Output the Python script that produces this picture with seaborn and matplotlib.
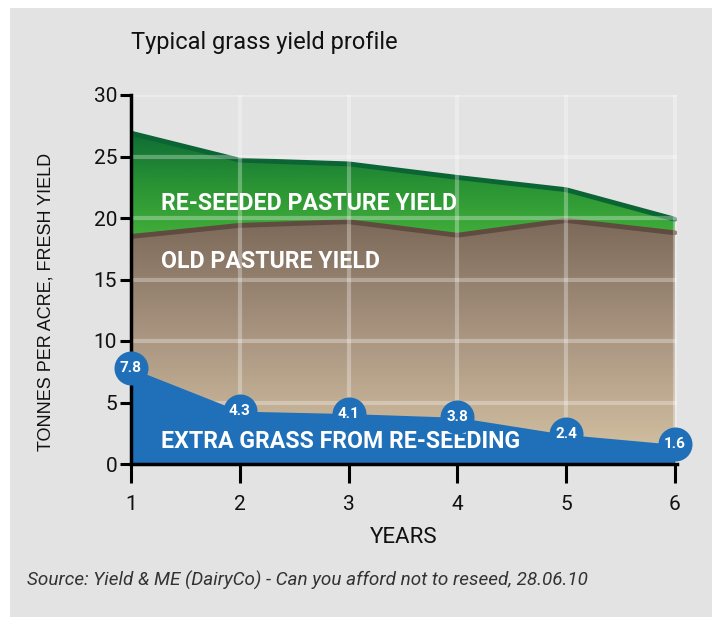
import matplotlib

matplotlib.use("Agg")
import matplotlib.pyplot as plt
import numpy as np
import pandas as pd
import seaborn as sns
from matplotlib.colors import LinearSegmentedColormap
from matplotlib.patches import Rectangle

years = [1, 2, 3, 4, 5, 6]
reseeded_total = [26.9, 24.7, 24.4, 23.3, 22.3, 19.9]
old_pasture = [18.5, 19.4, 19.7, 18.6, 19.8, 18.8]
extra_grass = [7.8, 4.3, 4.1, 3.8, 2.4, 1.6]

df = pd.DataFrame(
    {"year": years, "total": reseeded_total, "old": old_pasture, "extra": extra_grass}
)

sns.set_style("white")
plt.rcParams["font.family"] = ["Roboto", "DejaVu Sans"]

fig = plt.figure(figsize=(7.2, 6.17), dpi=100, facecolor="white")
fig.patches.append(
    Rectangle((10 / 720, 0), 702 / 720, 609 / 617, transform=fig.transFigure,
              facecolor="#e3e3e3", edgecolor="none", zorder=-10)
)
ax = fig.add_axes([131 / 720, 1 - 464 / 617, 546 / 720, 369 / 617])
ax.set_facecolor("none")
ax.set_xlim(1, 6.02)
ax.set_ylim(0, 30)

# gradient fills clipped to the areas
grad = np.linspace(0, 1, 256).reshape(-1, 1)

old_poly = ax.fill_between(df["year"], 0, df["old"], color="none", lw=0)
brown = LinearSegmentedColormap.from_list("brown", ["#d6c4a4", "#ab9782", "#7b6858"])
im = ax.imshow(grad, cmap=brown, extent=[1, 6.02, 0, 20], origin="lower",
               aspect="auto", zorder=1)
im.set_clip_path(old_poly.get_paths()[0], transform=ax.transData)

green_poly = ax.fill_between(df["year"], df["old"], df["total"], color="none", lw=0)
green = LinearSegmentedColormap.from_list("green", ["#45b13b", "#2a9434", "#0c6a34"])
im2 = ax.imshow(grad, cmap=green, extent=[1, 6.02, 18, 27.2], origin="lower",
                aspect="auto", zorder=1)
im2.set_clip_path(green_poly.get_paths()[0], transform=ax.transData)

sns.lineplot(data=df, x="year", y="total", color="#0b6433", lw=3.5, ax=ax, zorder=2)
sns.lineplot(data=df, x="year", y="old", color="#5f4b3f", lw=3.5, ax=ax, zorder=2)

# grid on top of the fills
for y in range(5, 31, 5):
    ax.axhline(y, color="white", alpha=0.3, lw=3, zorder=2.5)
for x in years[1:]:
    ax.axvline(x, color="white", alpha=0.3, lw=3, zorder=2.5)

# extra grass from re-seeding
ax.fill_between(df["year"], 0, df["extra"], color="#1f70b8", lw=0, zorder=3)
ax.scatter(df["year"], df["extra"], s=600, color="#1f70b8", zorder=8, clip_on=False,
           linewidths=0)
for x, y in zip(years, extra_grass):
    ax.text(x, y, f"{y}", color="white", fontsize=11, fontweight="bold",
            ha="center", va="center", zorder=9)

ax.text(1.28, 21.2, "RE-SEEDED PASTURE YIELD", color="white", fontsize=16.7,
        fontweight="bold", va="center", zorder=6)
ax.text(1.28, 16.5, "OLD PASTURE YIELD", color="white", fontsize=16.7,
        fontweight="bold", va="center", zorder=6)
ax.text(1.28, 1.85, "EXTRA GRASS FROM RE-SEEDING", color="white", fontsize=16.7,
        fontweight="bold", va="center", zorder=6)

for side in ["top", "right"]:
    ax.spines[side].set_visible(False)
for side in ["left", "bottom"]:
    ax.spines[side].set_color("black")
    ax.spines[side].set_linewidth(2.5)
    ax.spines[side].set_zorder(7)

ax.set_xticks(years)
ax.set_yticks(range(0, 31, 5))
ax.tick_params(axis="both", direction="out", width=2.2, color="black",
               labelsize=15, labelcolor="#111111", bottom=True, left=True)
ax.tick_params(axis="x", length=14, pad=8)
ax.tick_params(axis="y", length=8, pad=2)
ax.set_xlabel("YEARS", fontsize=16, color="#111111")
ax.xaxis.set_label_coords(0.5, -0.171)
ax.set_ylabel("TONNES PER ACRE, FRESH YIELD", fontsize=13, color="#111111",
              family=["Liberation Sans", "DejaVu Sans"])
ax.yaxis.set_label_coords(-0.141, 0.44)

fig.text(131 / 720, 1 - 42 / 617, "Typical grass yield profile", fontsize=17,
         color="#111111", va="center")
fig.text(27 / 720, 1 - 580 / 617,
         "Source: Yield & ME (DairyCo) - Can you afford not to reseed, 28.06.10",
         fontsize=13.6, style="italic", color="#333333", va="center")

fig.savefig("out.png", dpi=100, facecolor="white")
